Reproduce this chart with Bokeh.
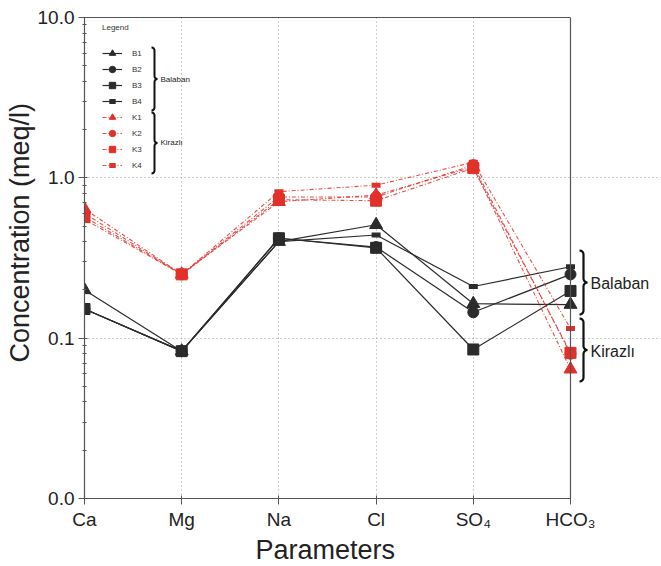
import math
from bokeh.plotting import figure
from bokeh.models import (Range1d, FixedTicker, PrintfTickFormatter, Legend,
                          LegendItem, Label, Span, LinearAxis, Title)
from bokeh.embed import file_html
from bokeh.resources import INLINE

# ---------------- data ----------------
params = ["Ca", "Mg", "Na", "Cl", "SO₄", "HCO₃"]
B1 = [0.200, 0.083, 0.400, 0.510, 0.164, 0.162]
B2 = [0.152, 0.083, 0.420, 0.370, 0.145, 0.250]
B3 = [0.152, 0.083, 0.420, 0.366, 0.085, 0.197]
B4 = [0.152, 0.083, 0.400, 0.440, 0.210, 0.279]
K1 = [0.640, 0.250, 0.710, 0.780, 1.170, 0.064]
K2 = [0.600, 0.250, 0.760, 0.760, 1.200, 0.080]
K3 = [0.570, 0.250, 0.730, 0.720, 1.150, 0.081]
K4 = [0.550, 0.250, 0.820, 0.900, 1.250, 0.115]
y_ticks = [0.01, 0.1, 1, 10]

# ---------------- layout ----------------
FL, FT, FH = 84, 17, 481
UNIT = 97.2                      # px per category step
FW = 661 - FL                    # frame extended to the right edge
NCAT = len(params) - 1
FONT = "Liberation Sans"
TXT = "#222222"
AX = "#555555"
RED = "#e2302a"
BLK = "#2b2b2b"


def dx(px):
    return (px - FL) / UNIT


def dy(py):
    return 10 ** (1 - (py - FT) / FH * 3)


p = figure(frame_width=FW, frame_height=FH,
           x_range=Range1d(0, FW / UNIT), y_range=Range1d(0.01, 10),
           y_axis_type="log", output_backend="svg", toolbar_location=None,
           min_border_left=FL, min_border_right=0,
           min_border_top=FT, min_border_bottom=566 - FT - FH)
p.background_fill_color = "white"
p.border_fill_color = "white"
p.outline_line_color = None

x = list(range(len(params)))

p.xaxis.ticker = FixedTicker(ticks=x)
p.xaxis.major_label_overrides = {i: params[i] for i in x}
p.xaxis.bounds = (0, NCAT)
p.yaxis.ticker = FixedTicker(
    ticks=y_ticks,
    minor_ticks=[m * 10 ** e for e in (-2, -1, 0) for m in range(2, 10)])
p.yaxis.formatter = PrintfTickFormatter(format="%.1f")

for ax in (p.xaxis[0], p.yaxis[0]):
    ax.axis_line_color = AX
    ax.axis_line_width = 1.2
    ax.major_tick_line_color = AX
    ax.minor_tick_line_color = AX
    ax.major_tick_out = 6
    ax.major_tick_in = 3
    ax.minor_tick_out = 2
    ax.minor_tick_in = 2
    ax.major_label_text_font = FONT
    ax.major_label_text_font_size = "19px"
    ax.major_label_text_color = TXT
    ax.major_label_standoff = 4
p.xaxis.minor_tick_line_color = None

# top border of the plot box
top = LinearAxis(ticker=FixedTicker(ticks=[]), bounds=(0, NCAT),
                 axis_line_color=AX, axis_line_width=1.2,
                 major_tick_line_color=None, minor_tick_line_color=None,
                 major_label_text_font_size="0px")
p.add_layout(top, "above")
# right border of the plot box (at HCO3)
p.add_layout(Span(location=NCAT, dimension="height", line_color=AX,
                  line_width=1.2))

p.grid.grid_line_color = "#9a9a9a"
p.grid.grid_line_dash = "1 3"
p.grid.grid_line_width = 1
p.ygrid.bounds = (0, NCAT)

# axis titles
p.add_layout(Title(text="Concentration (meq/l)", align="left", offset=136,
                   standoff=0, text_font=FONT, text_font_size="27px",
                   text_font_style="normal", text_color=TXT), "left")
p.add_layout(Title(text="Parameters", align="left", offset=171,
                   standoff=0, text_font=FONT, text_font_size="27px",
                   text_font_style="normal", text_color=TXT), "below")

# ---------------- series ----------------
series = [("B1", B1, BLK, "triangle", 13, None),
          ("B2", B2, BLK, "circle", 11, None),
          ("B3", B3, BLK, "square", 11, None),
          ("B4", B4, BLK, "dash", 9, None),
          ("K1", K1, RED, "triangle", 13, "4 2 1 2"),
          ("K2", K2, RED, "circle", 11, "4 2 1 2"),
          ("K3", K3, RED, "square", 11, "4 2 1 2"),
          ("K4", K4, RED, "dash", 9, "4 2 1 2")]

items = []
for name, vals, col, mk, sz, dash in series:
    if dash:
        lr = p.line(x, vals, line_color=col, line_width=1.1,
                    line_dash=dash, line_alpha=0.85)
    else:
        lr = p.line(x, vals, line_color=col, line_width=1.2)
    if mk == "dash":
        sr = p.scatter(x, vals, marker="dash", size=sz, line_color=col,
                       line_width=5)
    else:
        sr = p.scatter(x, vals, marker=mk, size=sz, fill_color=col,
                       line_color=col)
    items.append(LegendItem(label=name, renderers=[lr, sr]))

legend = Legend(items=items, title="Legend", location=(14, 321),
                padding=4, margin=0, spacing=0,
                glyph_width=20, glyph_height=16, label_height=16,
                label_standoff=10,
                label_text_font=FONT, label_text_font_size="8px",
                label_text_color="#333333",
                title_text_font=FONT, title_text_font_size="8px",
                title_text_font_style="normal", title_text_color="#333333",
                title_standoff=13,
                background_fill_alpha=0, border_line_alpha=0)
p.add_layout(legend)


# ---------------- braces ----------------
def brace(x0, r, ytop, ybot, n=8):
    ym = (ytop + ybot) / 2
    pts = []
    for i in range(n + 1):
        t = -math.pi / 2 + (math.pi / 2) * i / n
        pts.append((x0 + r * math.cos(t), ytop + r + r * math.sin(t)))
    for i in range(n + 1):
        t = math.pi - (math.pi / 2) * i / n
        pts.append((x0 + 2 * r + r * math.cos(t), ym - r + r * math.sin(t)))
    for i in range(n + 1):
        t = -math.pi / 2 - (math.pi / 2) * i / n
        pts.append((x0 + 2 * r + r * math.cos(t), ym + r + r * math.sin(t)))
    for i in range(n + 1):
        t = (math.pi / 2) * i / n
        pts.append((x0 + r * math.cos(t), ybot - r + r * math.sin(t)))
    return [dx(a) for a, _ in pts], [dy(b) for _, b in pts]


def add_brace(x0, r, ytop, ybot, width):
    xs, ys = brace(x0, r, ytop, ybot)
    p.line(xs, ys, line_color="#111111", line_width=width)


def add_text(px, py, text, size):
    p.add_layout(Label(x=dx(px), y=dy(py), text=text, text_font=FONT,
                       text_font_size=size, text_color=TXT,
                       text_align="left", text_baseline="middle"))


add_brace(151, 3, 47, 110, 2)
add_brace(151, 3, 112, 173, 2)
add_text(160, 79, "Balaban", "8px")
add_text(160, 142, "Kirazlı", "8px")

add_brace(579, 4, 250, 314, 2.2)
add_brace(579, 4, 318, 381, 2.2)
add_text(590, 283, "Balaban", "16px")
add_text(590, 351, "Kirazlı", "16px")

open("out.html", "w").write(file_html(p, INLINE))
